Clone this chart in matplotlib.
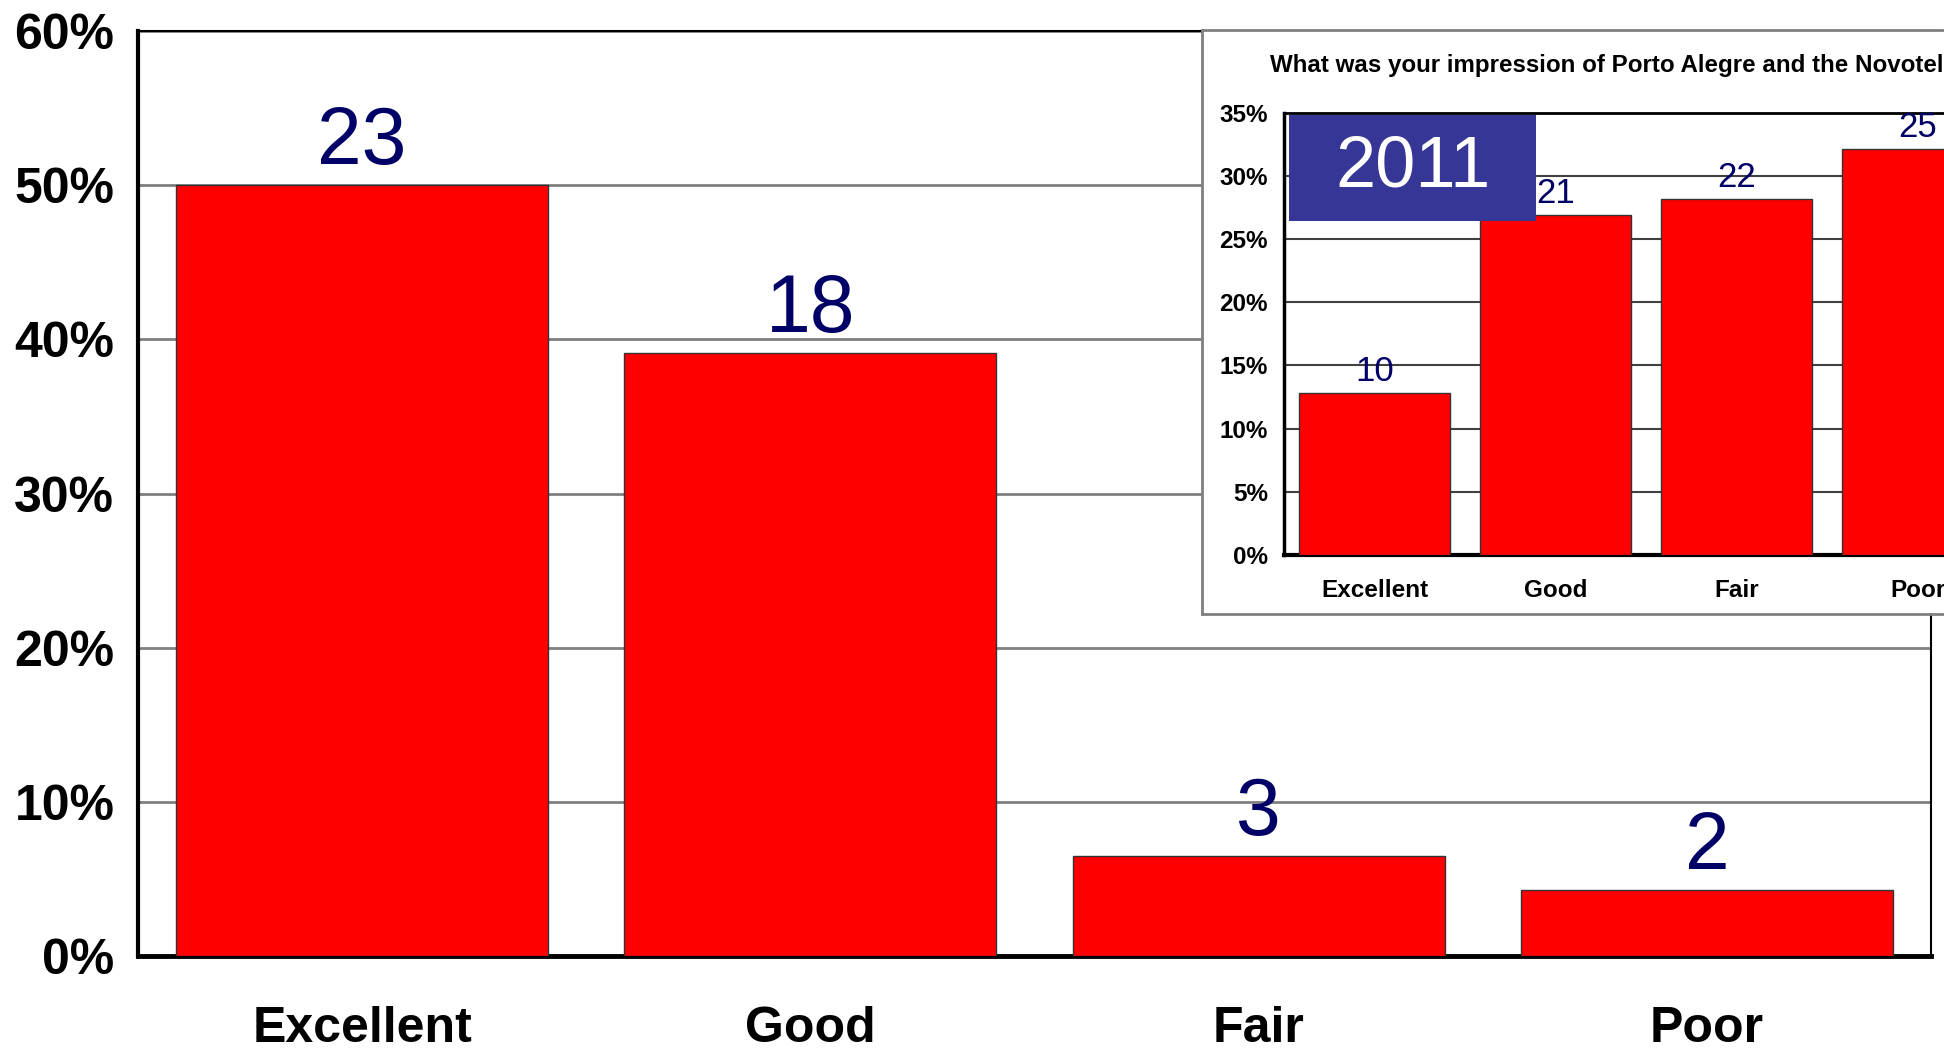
import matplotlib
matplotlib.use("Agg")
import matplotlib.pyplot as plt
from matplotlib.patches import Rectangle
from matplotlib.ticker import PercentFormatter

plt.rcParams['font.family'] = ['Liberation Sans', 'DejaVu Sans']

# data
categories = ['Excellent', 'Good', 'Fair', 'Poor']
main_counts = [23, 18, 3, 2]
main_pct = [50.0, 39.1, 6.5, 4.3]
inset_counts = [10, 21, 22, 25]
inset_pct = [12.8, 26.9, 28.2, 32.1]
inset_title = 'What was your impression of Porto Alegre and the Novotel'
inset_year = '2011'

navy = '#000066'
W, H = 1944, 1053

fig = plt.figure(figsize=(W / 100, H / 100), dpi=100)
fig.patch.set_facecolor('white')


def fbox(x0, y0, x1, y1):
    # pixel box (top-left origin) -> figure fraction rect
    return [x0 / W, 1 - y1 / H, (x1 - x0) / W, (y1 - y0) / H]


# main chart
ax = fig.add_axes(fbox(138, 31, 1931, 956))
x = range(len(categories))
bars = ax.bar(x, main_pct, width=0.83, color='#ff0000', edgecolor='#333333',
              linewidth=1, zorder=3)
for b, n in zip(bars, main_counts):
    ax.annotate(str(n), (b.get_x() + b.get_width() / 2, b.get_height()),
                xytext=(0, 3), textcoords='offset points', ha='center',
                va='bottom', fontsize=58, color=navy, zorder=4)
ax.set_xlim(-0.5, len(categories) - 0.5)
ax.set_ylim(0, 60)
ax.set_yticks(range(0, 61, 10))
ax.yaxis.set_major_formatter(PercentFormatter(decimals=0))
ax.set_xticks(list(x))
ax.set_xticklabels(categories)
ax.tick_params(axis='y', length=0, pad=17, labelsize=36)
ax.tick_params(axis='x', length=0, pad=36, labelsize=36)
for lab in ax.get_xticklabels() + ax.get_yticklabels():
    lab.set_fontweight('bold')
ax.yaxis.grid(True, color='#808080', linewidth=2, zorder=0)
ax.set_axisbelow(True)
ax.spines['left'].set_linewidth(3)
ax.spines['bottom'].set_linewidth(3.5)
ax.spines['top'].set_linewidth(1.5)
ax.spines['right'].set_linewidth(1.5)

# inset frame (pasted picture of the 2011 chart, runs off the right edge)
frame = fig.add_axes(fbox(1202, 30, 2200, 614), zorder=5)
frame.set_xticks([])
frame.set_yticks([])
frame.set_facecolor('white')
for s in frame.spines.values():
    s.set_color('#808080')
    s.set_linewidth(2)

ins = fig.add_axes(fbox(1284, 112.7, 2008, 555), zorder=6)
ins.set_facecolor('white')
ib = ins.bar(x, inset_pct, width=0.83, color='#ff0000', edgecolor='#333333',
             linewidth=1, zorder=3)
for b, n in zip(ib, inset_counts):
    ins.annotate(str(n), (b.get_x() + b.get_width() / 2, b.get_height()),
                 xytext=(0, 3.5), textcoords='offset points', ha='center',
                 va='bottom', fontsize=25, color=navy, zorder=4)
ins.set_xlim(-0.5, len(categories) - 0.5)
ins.set_ylim(0, 35)
ins.set_yticks(range(0, 36, 5))
ins.yaxis.set_major_formatter(PercentFormatter(decimals=0))
ins.set_xticks(list(x))
ins.set_xticklabels(categories)
ins.tick_params(axis='y', length=0, pad=11.5, labelsize=17.5)
ins.tick_params(axis='x', length=0, pad=17, labelsize=17.5)
for lab in ins.get_xticklabels() + ins.get_yticklabels():
    lab.set_fontweight('bold')
ins.yaxis.grid(True, color='#404040', linewidth=1.5, zorder=0)
ins.set_axisbelow(True)
ins.spines['left'].set_linewidth(2.5)
ins.spines['bottom'].set_linewidth(3)
ins.spines['top'].set_linewidth(2)
ins.spines['right'].set_visible(False)

fig.text(1270 / W, 1 - 71.7 / H, inset_title, ha='left', va='baseline',
         fontsize=17.4, fontweight='bold', color='black', zorder=7)

# year box over the inset
x0, y0, x1, y1 = 1289, 115, 1536, 221
fig.patches.append(Rectangle((x0 / W, 1 - y1 / H), (x1 - x0) / W, (y1 - y0) / H,
                             transform=fig.transFigure, facecolor='#363696',
                             edgecolor='none', zorder=8))
fig.text((x0 + x1) / 2 / W, 1 - (y0 + y1) / 2 / H, inset_year, ha='center',
         va='center', fontsize=52, color='white', zorder=9)

fig.savefig('out.png', dpi=100)
